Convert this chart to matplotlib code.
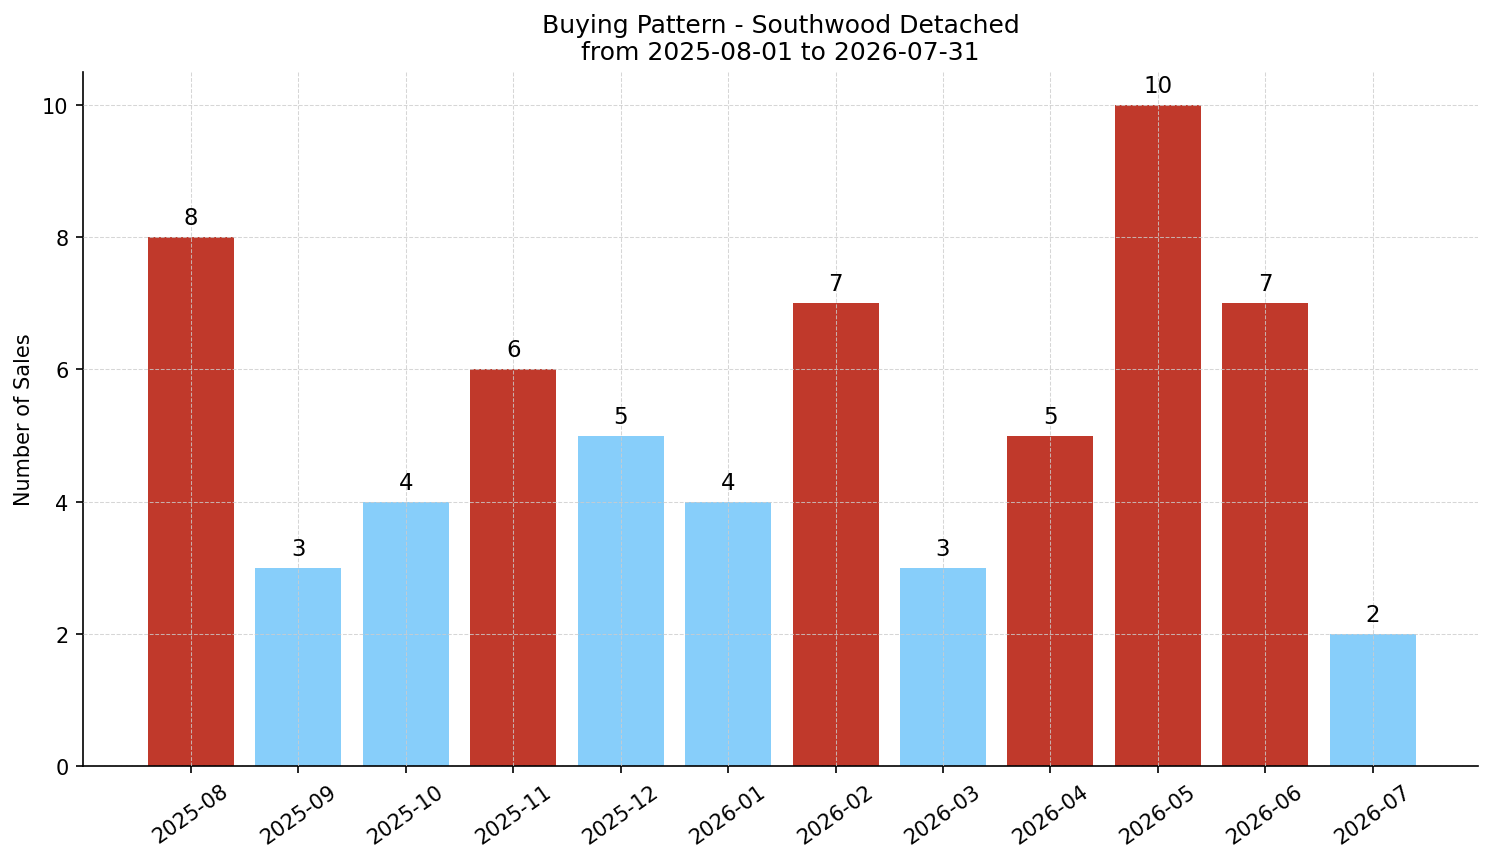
import matplotlib
matplotlib.use("Agg")
import matplotlib.pyplot as plt

months = ["2025-08", "2025-09", "2025-10", "2025-11", "2025-12", "2026-01",
          "2026-02", "2026-03", "2026-04", "2026-05", "2026-06", "2026-07"]
sales = [8, 3, 4, 6, 5, 4, 7, 3, 5, 10, 7, 2]
highlight = [True, False, False, True, False, False, True, False, True, True, True, False]

RED = "#c0392b"
BLUE = "#87cefa"
colors = [RED if h else BLUE for h in highlight]

fig = plt.figure(figsize=(9.96, 5.753), dpi=150)
ax = fig.add_axes([83/1494, 1 - 767/863, (1478-83)/1494, (767-73)/863])
x = list(range(len(months)))
ax.bar(x, sales, color=colors, width=0.8, zorder=2)
for xi, v in zip(x, sales):
    ax.text(xi, v + 0.12, str(v), ha="center", va="bottom", fontsize=11)
ax.set_xticks(x)
ax.set_xticklabels(months, rotation=35, ha="center")
ax.set_ylim(0, 10.5)
ax.set_xlim(-1.005, 11.98)
ax.set_yticks([0, 2, 4, 6, 8, 10])
ax.set_ylabel("Number of Sales", fontsize=10)
ax.set_title("Buying Pattern - Southwood Detached\nfrom 2025-08-01 to 2026-07-31", fontsize=12)
ax.grid(True, linestyle="--", linewidth=0.5, color="#cccccc", alpha=0.8, zorder=3)
ax.set_axisbelow(False)
ax.spines["top"].set_visible(False)
ax.spines["right"].set_visible(False)
ax.tick_params(labelsize=10)
fig.savefig("out.png", dpi=150)
